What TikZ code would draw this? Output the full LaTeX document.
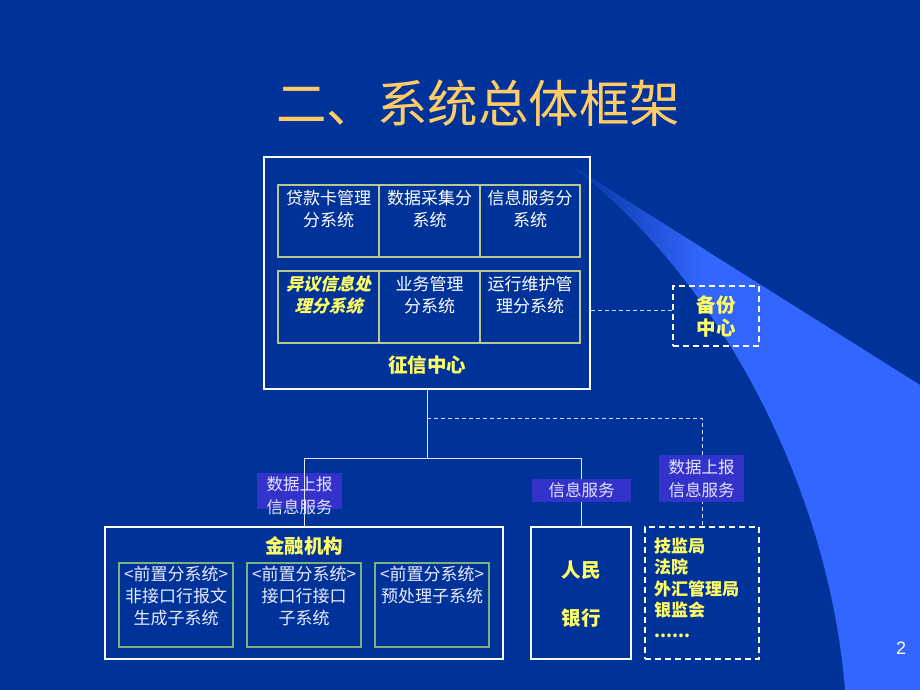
\documentclass[tikz,border=0pt]{standalone}
\usepackage{fontspec}
\setmainfont{Liberation Sans}
\newfontfamily\cjk{Noto Sans CJK SC}
\newfontfamily\cjkit[FakeSlant=0.25,BoldFeatures={FakeSlant=0.25}]{Noto Sans CJK SC}
\definecolor{bgc}{HTML}{003399}
\definecolor{lightc}{HTML}{3366FF}
\definecolor{tagc}{HTML}{3333CC}
\definecolor{yel}{HTML}{FFFF66}
\definecolor{gold}{HTML}{FFCC66}
\definecolor{cellc}{HTML}{B8C890}
\definecolor{subc}{HTML}{80B080}
\begin{document}
\begin{tikzpicture}[x=1pt,y=-1pt,
  outerbox/.style={draw=white, line width=1.8pt, inner sep=0pt},
  cellbox/.style={draw=cellc, line width=1.2pt, inner sep=0pt},
  subbox/.style={draw=subc, line width=1.4pt, inner sep=0pt},
  dbox/.style={draw=white, line width=1.8pt, dash pattern=on 6pt off 4pt, inner sep=0pt},
  celltext/.style={text=white, inner sep=0pt, align=center, font=\cjk\fontsize{17}{22}\selectfont},
  subtext/.style={text=white!92!blue, inner sep=0pt, align=center, font=\cjk\fontsize{17}{22}\selectfont},
  ytext/.style={text=yel, inner sep=0pt, align=center, font=\cjk\bfseries\fontsize{19.5}{23}\selectfont},
  ysmall/.style={text=yel, inner sep=0pt, align=left, font=\cjk\bfseries\fontsize{17}{21.2}\selectfont},
  tag/.style={fill=tagc, inner sep=0pt},
  tagtext/.style={text=white!90!blue, inner sep=0pt, align=center, font=\cjk\fontsize{16.5}{23}\selectfont},
  conn/.style={draw=white!90!blue, line width=1pt},
  dconn/.style={draw=white!85!blue, line width=1pt, dash pattern=on 4pt off 3pt}
]
\fill[bgc] (0,0) rectangle (920,690);
\useasboundingbox (0,0) rectangle (920,690);

% background swoosh
\fill[lightc] (575,168) -- (920,385) -- (920,690) -- (845,690)
  .. controls (830,500) and (730,290) .. (575,168) -- cycle;
\begin{scope}
  \clip (575,168) -- (920,385) -- (920,690) -- (845,690)
    .. controls (830,500) and (730,290) .. (575,168) -- cycle;
  \shade[left color=bgc, right color=lightc] (565,150) rectangle (705,320);
\end{scope}

% title
\node[text=gold, font=\cjk\fontsize{50.5}{54}\selectfont, inner sep=0pt] (title) at (478,103) {二、系统总体框架};

% credit center
\node[outerbox, minimum width=326pt, minimum height=232pt] (zx) at (427,273) {};
\node[cellbox, minimum width=101pt, minimum height=72pt] (c11) at (328.5,221) {};
\node[cellbox, minimum width=101pt, minimum height=72pt] (c12) at (429.5,221) {};
\node[cellbox, minimum width=100pt, minimum height=72pt] (c13) at (530,221) {};
\node[cellbox, minimum width=101pt, minimum height=72pt] (c21) at (328.5,307) {};
\node[cellbox, minimum width=101pt, minimum height=72pt] (c22) at (429.5,307) {};
\node[cellbox, minimum width=100pt, minimum height=72pt] (c23) at (530,307) {};
\node[celltext] (t11) at (328.5,209) {贷款卡管理\\分系统};
\node[celltext] (t12) at (429.5,209) {数据采集分\\系统};
\node[celltext] (t13) at (530,209) {信息服务分\\系统};
\node[celltext, text=yel, font=\cjkit\bfseries\fontsize{17}{22}\selectfont] (t21) at (328.5,295) {异议信息处\\理分系统};
\node[celltext] (t22) at (429.5,295) {业务管理\\分系统};
\node[celltext] (t23) at (530,295) {运行维护管\\理分系统};
\node[ytext] (zxt) at (427,365) {征信中心};

% backup center
\node[dbox, minimum width=86pt, minimum height=60pt] (bak) at (716,316) {};
\node[ytext] (bakt) at (716,316.5) {备份\\中心};
\draw[dconn] (zx.east |- 0,310) -- (bak.west |- 0,310);

% tree connectors
\coordinate (j1) at (427,458);
\coordinate (j2) at (427,418);
\node[outerbox, minimum width=398pt, minimum height=132pt] (jr) at (304,593) {};
\node[outerbox, minimum width=100pt, minimum height=132pt] (rm) at (581,593) {};
\node[dbox, minimum width=114pt, minimum height=132pt] (ot) at (702,593) {};
\coordinate (jl) at (jr.north |- j1);
\coordinate (jm) at (rm.north |- j1);
\coordinate (jd) at (ot.north |- j2);
\draw[conn] (zx.south) -- (j1);
\draw[conn] (jl) -- (jm) -- (rm.north);
\draw[dconn] (j2) -- (jd) -- (ot.north);

% tags
\node[tag, minimum width=85pt, minimum height=36pt] (tagL) at (299.5,491) {};
\draw[conn] (jl) -- (jr.north);
\node[tagtext] (tagLt) at (299.5,495.5) {数据上报\\信息服务};
\node[tag, minimum width=99pt, minimum height=23pt] (tagM) at (581.5,490.5) {};
\node[tagtext] (tagMt) at (581.5,490.5) {信息服务};
\node[tag, minimum width=85pt, minimum height=47pt] (tagR) at (701.5,478.5) {};
\node[tagtext] (tagRt) at (701.5,478.5) {数据上报\\信息服务};

% financial institutions
\node[ytext] (jrt) at (304,546) {金融机构};
\node[subbox, minimum width=114pt, minimum height=84pt] (s1) at (176,605) {};
\node[subbox, minimum width=114pt, minimum height=84pt] (s2) at (304,605) {};
\node[subbox, minimum width=114pt, minimum height=84pt] (s3) at (432,605) {};
\node[subtext] (s1t) at (176,596) {<前置分系统>\\非接口行报文\\生成子系统};
\node[subtext] (s2t) at (304,596) {<前置分系统>\\接口行接口\\子系统};
\node[subtext] (s3t) at (432,585) {<前置分系统>\\预处理子系统};

% people's bank
\node[ytext] (rm1) at (581,570) {人民};
\node[ytext] (rm2) at (581,618) {银行};

% others
\node[ysmall, anchor=west] (ott) at (654,588) {技监局\\法院\\外汇管理局\\银监会\\......};

% page number
\node[text=white, font=\fontsize{18}{20}\selectfont, inner sep=0pt] (pg) at (901,648) {2};
\end{tikzpicture}
\end{document}
